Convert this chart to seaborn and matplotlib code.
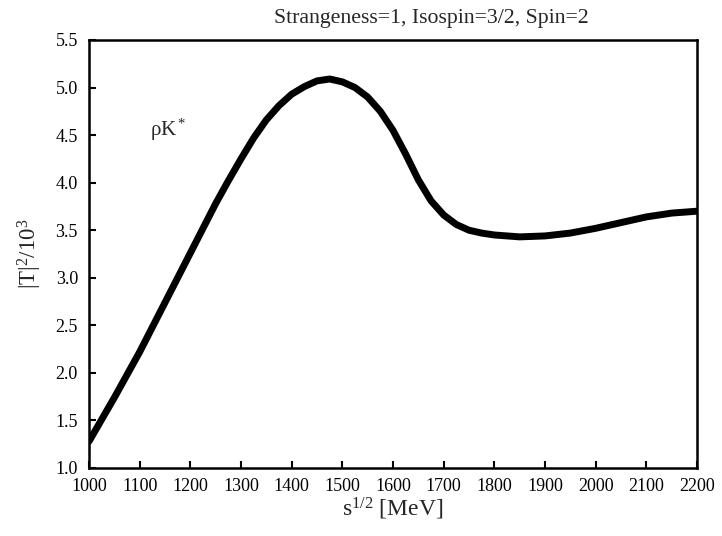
import matplotlib
matplotlib.use("Agg")
import matplotlib.pyplot as plt
import seaborn as sns
import pandas as pd

energy = [1000, 1025, 1050, 1075, 1100, 1125, 1150, 1175, 1200, 1225, 1250, 1275,
          1300, 1325, 1350, 1375, 1400, 1425, 1450, 1475, 1500, 1525, 1550, 1575,
          1600, 1625, 1650, 1675, 1700, 1725, 1750, 1775, 1800, 1850, 1900, 1950,
          2000, 2050, 2100, 2150, 2200]
t2 = [1.28, 1.51, 1.74, 1.98, 2.22, 2.48, 2.74, 3.00, 3.26, 3.52, 3.78, 4.02,
      4.25, 4.47, 4.66, 4.81, 4.93, 5.01, 5.07, 5.09, 5.06, 5.00, 4.90, 4.75,
      4.55, 4.30, 4.03, 3.81, 3.66, 3.56, 3.50, 3.47, 3.45, 3.43, 3.44, 3.47,
      3.52, 3.58, 3.64, 3.68, 3.70]
x_ticks = list(range(1000, 2201, 100))
y_ticks = [1.0, 1.5, 2.0, 2.5, 3.0, 3.5, 4.0, 4.5, 5.0, 5.5]

sns.set_style("ticks")
plt.rcParams['font.family'] = ['Liberation Serif', 'DejaVu Serif']
plt.rcParams['mathtext.fontset'] = 'custom'
plt.rcParams['mathtext.rm'] = 'Liberation Serif'
plt.rcParams['mathtext.it'] = 'Liberation Serif:italic'
plt.rcParams['mathtext.bf'] = 'Liberation Serif:bold'

df = pd.DataFrame({"E": energy, "T": t2})

fig = plt.figure(figsize=(7.22, 5.36), dpi=100)
ax = fig.add_axes([89/722, 68/536, (697-89)/722, (468-40)/536])
sns.lineplot(data=df, x="E", y="T", ax=ax, color="black", linewidth=5,
             solid_capstyle="round", solid_joinstyle="round")

ax.set_xlim(1000, 2200)
ax.set_ylim(1.0, 5.5)
ax.set_xticks(x_ticks)
ax.set_xticklabels([str(v) for v in x_ticks])
ax.set_yticks(y_ticks)
ax.set_yticklabels([f"{v:.1f}" for v in y_ticks])
ax.tick_params(direction="in", length=5, width=1.5, labelsize=13,
               colors="black", top=False, right=False)
ax.tick_params(axis="x", pad=7)
ax.tick_params(axis="y", pad=8)
for s in ax.spines.values():
    s.set_linewidth(1.8)
    s.set_color("black")

ax.set_xlabel("s$^{1/2}$ [MeV]", fontsize=17, labelpad=1)
ax.set_ylabel("|T|$^2$/10$^3$", fontsize=16.5, labelpad=8)
ax.text(1120, 4.55, "ρK$^*$", fontsize=15, va="center", ha="left")
fig.text(431/722, 1 - 18/536, "Strangeness=1, Isospin=3/2, Spin=2",
         fontsize=15.7, ha="center", va="center")

fig.savefig("out.png", dpi=100)
